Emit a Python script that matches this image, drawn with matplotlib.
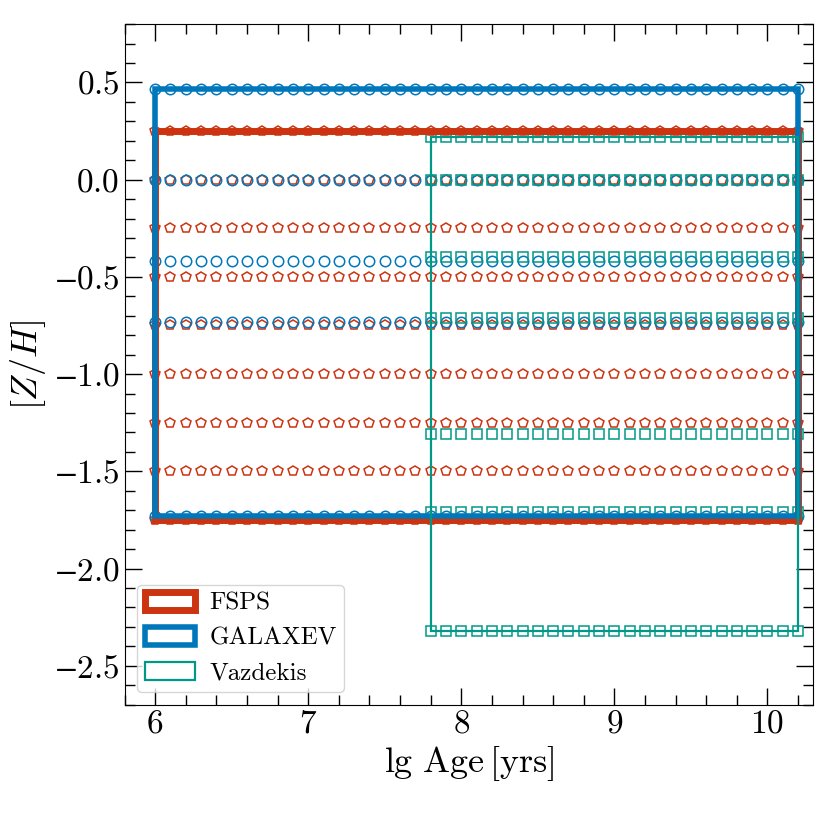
import numpy as np
import matplotlib
matplotlib.use('Agg')
import matplotlib.pyplot as plt
from matplotlib.patches import Rectangle
from matplotlib.ticker import MultipleLocator, FuncFormatter

plt.rcParams['font.family'] = 'serif'
plt.rcParams['font.serif'] = ['cmr10']
plt.rcParams['mathtext.fontset'] = 'cm'
plt.rcParams['axes.formatter.use_mathtext'] = True

# model grids: log age and metallicity
fsps_age = np.round(np.arange(6.0, 10.21, 0.1), 2)
fsps_zh = [0.25, 0.0, -0.25, -0.5, -0.75, -1.0, -1.25, -1.5, -1.75]

galaxev_age = np.round(np.arange(6.0, 10.21, 0.1), 2)
galaxev_zh = [0.465, 0.0, -0.42, -0.73, -1.73]

vazdekis_age = np.round(np.arange(7.8, 10.21, 0.1), 2)
vazdekis_zh = [0.22, 0.0, -0.40, -0.71, -1.31, -1.71, -2.32]

red = '#CC3311'
blue = '#0077BB'
teal = '#009988'


def math_label(fmt):
    def f(v, pos):
        s = fmt % v
        if s.startswith('-'):
            s = r'\minus' + s[1:]
        return '$' + s + '$'
    return FuncFormatter(f)


fig = plt.figure(figsize=(8.3, 8.3), dpi=100)
ax = fig.add_axes([0.15, 0.151, 0.83, 0.82])

models = [
    ('FSPS', fsps_age, fsps_zh, red, 'p', 5),
    ('GALAXEV', galaxev_age, galaxev_zh, blue, 'o', 4),
    ('Vazdekis', vazdekis_age, vazdekis_zh, teal, 's', 1.6),
]

for name, age, zh, color, marker, lw in models:
    a, z = np.meshgrid(age, zh)
    ax.plot(a.ravel(), z.ravel(), ls='none', marker=marker, ms=7.5 if marker != 'p' else 7,
            mfc='none', mec=color, mew=1.1, zorder=2)

for name, age, zh, color, marker, lw in models:
    rect = Rectangle((min(age), min(zh)), max(age) - min(age), max(zh) - min(zh),
                     fill=False, edgecolor=color, linewidth=lw, label=name, zorder=3)
    ax.add_patch(rect)

ax.set_xlim(5.8, 10.3)
ax.set_ylim(-2.7, 0.8)
ax.xaxis.set_major_locator(MultipleLocator(1))
ax.xaxis.set_minor_locator(MultipleLocator(0.2))
ax.yaxis.set_major_locator(MultipleLocator(0.5))
ax.yaxis.set_minor_locator(MultipleLocator(0.1))
ax.xaxis.set_major_formatter(math_label('%d'))
ax.yaxis.set_major_formatter(math_label('%.1f'))
ax.tick_params(which='both', direction='in', top=True, right=True, labelsize=24)
ax.tick_params(which='major', length=12, width=1)
ax.tick_params(which='minor', length=7, width=1)

ax.set_xlabel(r'$\lg\,\mathrm{Age}\,[\mathrm{yrs}]$', fontsize=26)
ax.set_ylabel(r'$[Z/H]$', fontsize=26)
ax.legend(loc='lower left', fontsize=18, borderpad=0.3, handletextpad=0.6)

fig.savefig('out.png', dpi=100)
